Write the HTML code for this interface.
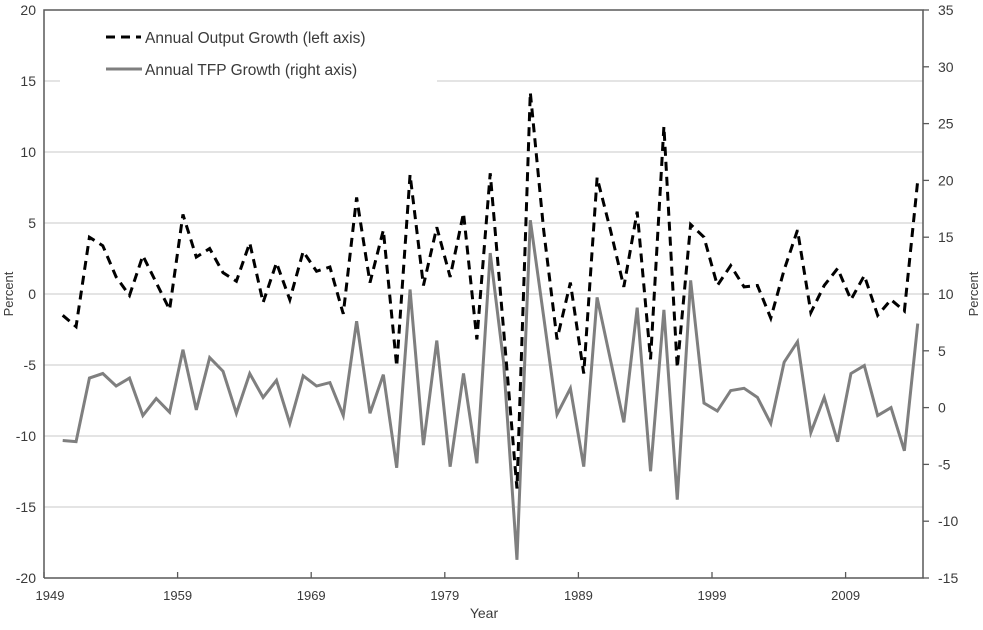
<!DOCTYPE html>
<html><head><meta charset="utf-8"><style>
body{margin:0;background:#fff;}
svg text{font-family:"Liberation Sans",sans-serif;fill:#3a3a3a;}
</style></head><body>
<svg id="chart" width="983" height="625" xmlns="http://www.w3.org/2000/svg">
<g id="grid"></g>
<g id="axes"></g>
<g id="series"></g>
<g>
<rect x="60" y="18" width="377" height="67" fill="#fff"/>
<g>
<line x1="106" y1="37" x2="141" y2="37" stroke="#000" stroke-width="3" stroke-dasharray="9,6"/>
<text x="145" y="43" font-size="15.5">Annual Output Growth (left axis)</text></g>
<g>
<line x1="106" y1="69" x2="142" y2="69" stroke="#7f7f7f" stroke-width="3"/>
<text x="145" y="75" font-size="15.5">Annual TFP Growth (right axis)</text></g>
</g>
<text x="484" y="618" font-size="14" text-anchor="middle">Year</text>
<text x="13" y="294" font-size="13" text-anchor="middle" transform="rotate(-90 13 294)">Percent</text>
<text x="978" y="294" font-size="13" text-anchor="middle" transform="rotate(-90 978 294)">Percent</text>
</svg>
<script>
const years = [];
for (let y = 1950; y <= 2014; y++) years.push(y);
const outputGrowth = [-1.5,-2.3,4.0,3.4,1.2,-0.1,2.7,0.8,-1.1,5.6,2.6,3.2,1.5,0.9,3.6,-0.6,2.2,-0.4,3.0,1.6,1.9,-1.4,6.8,0.8,4.5,-5.1,8.4,0.6,4.7,1.2,5.7,-3.2,8.5,-2.5,-13.7,14.2,4.5,-3.2,0.8,-5.6,8.2,4.5,0.5,5.8,-4.6,11.8,-5.2,4.9,4.0,0.6,2.0,0.5,0.6,-1.7,1.7,4.5,-1.3,0.6,1.8,-0.4,1.3,-1.5,-0.4,-1.2,8.0];
const tfpGrowth = [-2.9,-3.0,2.6,3.0,1.9,2.6,-0.7,0.8,-0.4,5.1,-0.2,4.4,3.2,-0.5,3.0,0.9,2.4,-1.4,2.8,1.9,2.2,-0.7,7.6,-0.5,2.9,-5.3,10.4,-3.3,5.9,-5.2,3.0,-4.9,13.6,4.0,-13.4,16.5,8.0,-0.6,1.7,-5.2,9.7,4.2,-1.3,8.8,-5.6,8.6,-8.1,11.2,0.4,-0.3,1.5,1.7,0.9,-1.4,4.0,5.8,-2.2,0.9,-3.0,3.0,3.7,-0.7,0.0,-3.8,7.4];
const leftTicks = [20,15,10,5,0,-5,-10,-15,-20];
const rightTicks = [35,30,25,20,15,10,5,0,-5,-10,-15];
const xTickYears = [1949,1959,1969,1979,1989,1999,2009];

const X0=44, X1=923, YT=10, YB=578;
const xTick = y => X0 + (y-1949)*13.36;
const xPt = y => X0 + (y-1949+0.4)*13.36;
const yL = v => YB - (v+20)/40*(YB-YT);
const yR = v => YB - (v+15)/50*(YB-YT);
const NS="http://www.w3.org/2000/svg";
function mk(tag, parent, attrs){const e=document.createElementNS(NS,tag);for(const k in attrs)e.setAttribute(k,attrs[k]);parent.appendChild(e);return e;}
const grid=document.getElementById('grid'), axes=document.getElementById('axes'), series=document.getElementById('series');

leftTicks.forEach(v=>{
  if(v!==20 && v!==-20){
    const g=mk('line',grid,{x1:X0,x2:X1,y1:yL(v),y2:yL(v),stroke:'#d4d4d4','stroke-width':1.3});
    
    
  }
  const t=mk('text',axes,{x:36,y:yL(v)+5,'font-size':14,'text-anchor':'end'});
  t.textContent=v;
  
  
});
rightTicks.forEach(v=>{
  const l=mk('line',axes,{x1:X1,x2:X1+6,y1:yR(v),y2:yR(v),stroke:'#595959','stroke-width':1.3});
  
  
  const t=mk('text',axes,{x:938,y:yR(v)+5,'font-size':14});
  t.textContent=v;
  
  
});
xTickYears.forEach(y=>{
  const l=mk('line',axes,{x1:xTick(y),x2:xTick(y),y1:YB,y2:YB-6,stroke:'#595959','stroke-width':1.3});
  
  
  const t=mk('text',axes,{x:xTick(y)+(y===1949?6:0),y:YB+22,'font-size':13,'text-anchor':'middle'});
  t.textContent=y;
  
  
});
const frame=mk('path',axes,{d:`M${X0},${YB}L${X0},${YT}L${X1},${YT}L${X1},${YB}L${X0},${YB}`,fill:'none',stroke:'#595959','stroke-width':1.5});



const tfpPath=mk('polyline',series,{points:years.map((y,i)=>xPt(y)+','+yR(tfpGrowth[i])).join(' '),fill:'none',stroke:'#7f7f7f','stroke-width':3,'stroke-linejoin':'miter'});


const outPath=mk('polyline',series,{points:years.map((y,i)=>xPt(y)+','+yL(outputGrowth[i])).join(' '),fill:'none',stroke:'#000','stroke-width':3,'stroke-dasharray':'9,6'});


</script>
</body></html>
